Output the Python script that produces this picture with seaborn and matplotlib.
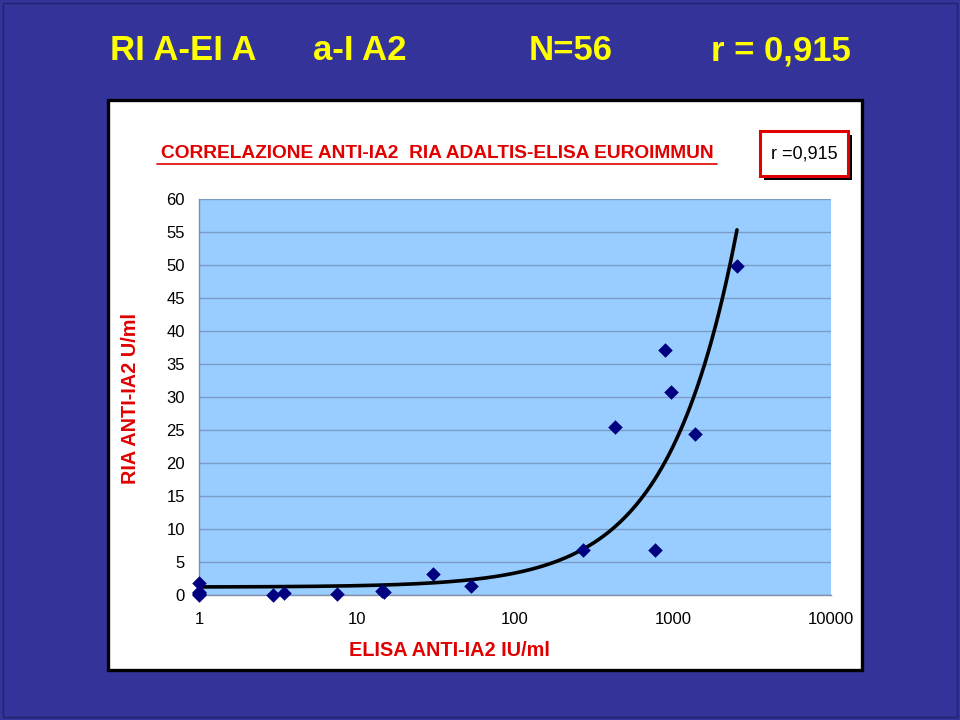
import numpy as np
import pandas as pd
import matplotlib
matplotlib.use("Agg")
import matplotlib.pyplot as plt
from matplotlib.patches import Rectangle
import seaborn as sns

# ---- data ----
elisa = [1, 1, 1, 1, 1, 2.95, 3.47, 7.5, 14.5, 14.8, 30.4, 52.9, 269, 429, 769, 890, 971, 1377, 2541]
ria = [1.8, 0.5, 0.3, 0.1, 0.0, 0.0, 0.26, 0.1, 0.6, 0.4, 3.2, 1.3, 6.8, 25.5, 6.8, 37.1, 30.8, 24.4, 49.8]
trend_intercept = 1.2      # linear trendline
trend_slope = 0.0213
y_ticks = [0, 5, 10, 15, 20, 25, 30, 35, 40, 45, 50, 55, 60]
x_ticks = [1, 10, 100, 1000, 10000]
x_ticklabels = ["1", "10", "100", "1000", "10000"]

title_parts = ["RI A-EI A", "a-I A2", "N=56", "r = 0,915"]
subtitle = "CORRELAZIONE ANTI-IA2  RIA ADALTIS-ELISA EUROIMMUN"
r_box = "r =0,915"
x_label = "ELISA ANTI-IA2 IU/ml"
y_label = "RIA ANTI-IA2 U/ml"

arial = ["Liberation Sans", "DejaVu Sans"]

sns.set_style("white")
plt.rcParams["font.family"] = arial

W, H = 960, 720
fig = plt.figure(figsize=(9.6, 7.2), dpi=100)
fig.patch.set_facecolor("#333399")

def fx(px):
    return px / W

def fy(py):
    return 1 - py / H

# thin outer line
fig.patches.append(Rectangle((fx(3), fy(717)), fx(954), 714 / H, transform=fig.transFigure,
                             facecolor="none", edgecolor="#23236e", lw=1.0, zorder=0))
# white panel
fig.patches.append(Rectangle((fx(108), fy(670)), fx(754), 570 / H, transform=fig.transFigure,
                             facecolor="white", edgecolor="black", lw=2.4, zorder=1))

# title parts (centred on the reference positions)
title_cx = [183, 360, 571, 781]
for t, x in zip(title_parts, title_cx):
    fig.text(fx(x), fy(51), t, color="#FFFF00", fontsize=25, fontweight="bold",
             family=arial, ha="center", va="center")

# subtitle (underlined)
fig.text(fx(437), fy(154), subtitle, color="#E00000", fontsize=13.8, fontweight="bold",
         family=arial, ha="center", va="center")
fig.lines.append(plt.Line2D([fx(157), fx(717)], [fy(164), fy(164)], transform=fig.transFigure,
                            color="#E00000", lw=1.2))

# r box with shadow
fig.patches.append(Rectangle((fx(764), fy(180)), fx(88), 45 / H, transform=fig.transFigure,
                             facecolor="black", edgecolor="none", zorder=2))
fig.patches.append(Rectangle((fx(760), fy(176)), fx(88), 45 / H, transform=fig.transFigure,
                             facecolor="white", edgecolor="#E00000", lw=2.2, zorder=3))
fig.text(fx(804), fy(154), r_box, color="black", fontsize=13, family=arial,
         ha="center", va="center", zorder=4)

# axes
ax = fig.add_axes([fx(199), fy(595), fx(831 - 199), (595 - 199) / H])
ax.set_facecolor("#99CCFF")
ax.set_zorder(5)

df = pd.DataFrame({"elisa": elisa, "ria": ria})
xs = np.logspace(0, np.log10(max(elisa)), 300)
trend = pd.DataFrame({"x": xs, "y": trend_intercept + trend_slope * xs})
sns.lineplot(data=trend, x="x", y="y", ax=ax, color="black", lw=2.6, zorder=3)
sns.scatterplot(data=df, x="elisa", y="ria", ax=ax, marker="D", s=55, color="#000080",
                edgecolor="#000080", linewidth=0, zorder=4, clip_on=False)

ax.set_xscale("log")
ax.set_xlim(1, 10000)
ax.set_ylim(0, 60)
ax.set_yticks(y_ticks)
ax.set_xticks(x_ticks)
ax.set_xticklabels(x_ticklabels)
ax.xaxis.set_minor_locator(matplotlib.ticker.NullLocator())
ax.grid(axis="y", color="#7C9CC8", lw=1.0)
ax.grid(axis="x", visible=False)
ax.set_axisbelow(True)
for s in ["top", "right"]:
    ax.spines[s].set_visible(False)
for s in ["left", "bottom"]:
    ax.spines[s].set_color("#8090A8")
    ax.spines[s].set_linewidth(1.0)
ax.tick_params(axis="both", which="major", direction="out", length=4, width=1,
               color="#8090A8", labelsize=12, labelcolor="black")
ax.tick_params(axis="y", pad=6)
ax.tick_params(axis="x", pad=8)
ax.set_xlabel("")
ax.set_ylabel("")

fig.text(fx(449), fy(651), x_label, color="#E00000", fontsize=14.3, fontweight="bold",
         family=arial, ha="center", va="center")
fig.text(fx(131), fy(398), y_label, color="#E00000", fontsize=14.3, fontweight="bold",
         family=arial, ha="center", va="center", rotation=90)

fig.savefig("out.png", dpi=100, facecolor=fig.get_facecolor())
